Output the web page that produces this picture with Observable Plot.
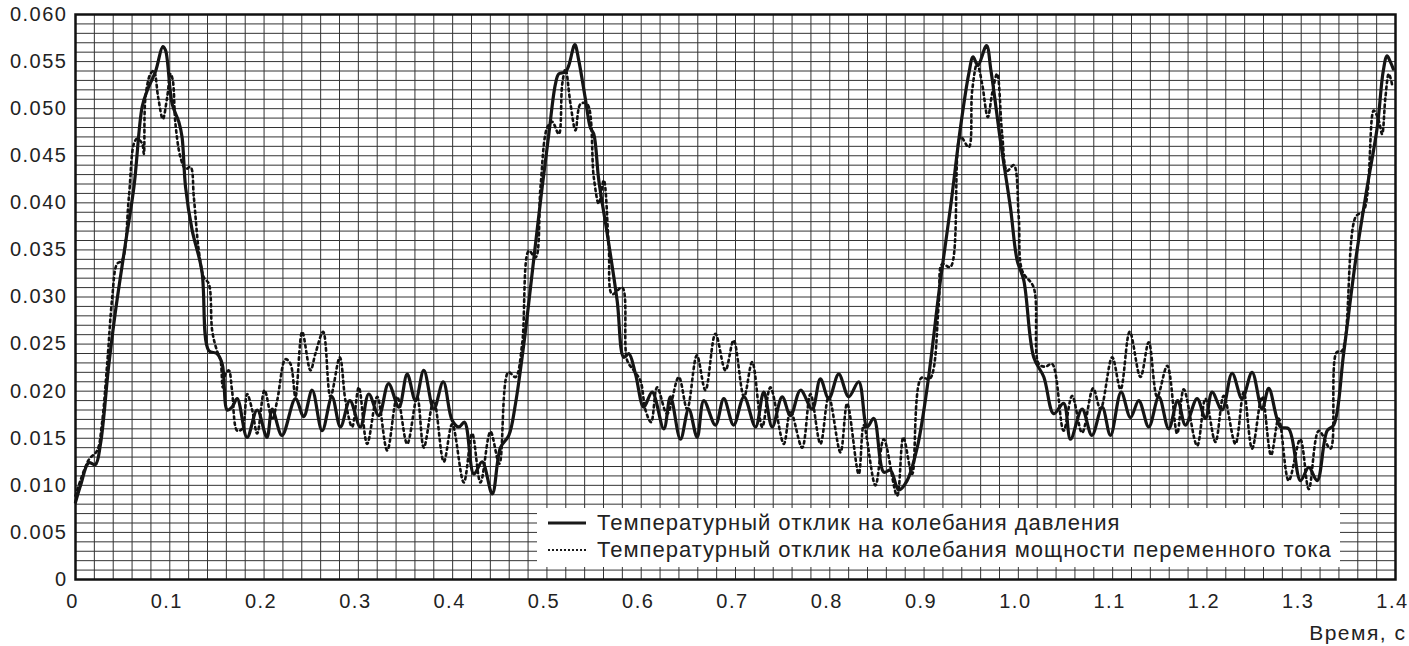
<!DOCTYPE html>
<html><head><meta charset="utf-8">
<script src="https://cdn.jsdelivr.net/npm/d3@7"></script>
<script src="https://cdn.jsdelivr.net/npm/@observablehq/plot@0.6"></script>
<style>
body{margin:0;background:#fff;font-family:"Liberation Sans",Arial,sans-serif;}
#wrap{position:relative;width:1409px;height:646px;}
#legend{position:absolute;left:537px;top:508px;width:803px;height:59px;background:#fff;}
.row{position:absolute;left:10px;height:26px;display:flex;align-items:center;font-size:22px;letter-spacing:1px;color:#222;white-space:nowrap}
.row svg{margin-right:10px}
</style></head><body><div id="wrap"></div>
<script>
// Температурный отклик на колебания давления (сплошная)
const pressureResponse = [
[0,0.0082],[0.006,0.0102],[0.014,0.0124],[0.021,0.0122],[0.0265,0.0144],[0.035,0.0225],[0.042,0.0282],[0.053,0.0357],[0.062,0.0417],[0.0707,0.0502],[0.076,0.0519],[0.085,0.054],[0.0926,0.0566],[0.0955,0.0562],[0.1025,0.0505],[0.1096,0.0486],[0.113,0.047],[0.1167,0.0417],[0.1237,0.0371],[0.134,0.0328],[0.1414,0.0243],[0.150,0.024],[0.1556,0.0229],[0.161,0.018],[0.166,0.0183],[0.1715,0.0192],[0.182,0.0151],[0.1927,0.018],[0.203,0.0151],[0.2086,0.0181],[0.219,0.0153],[0.2333,0.0192],[0.242,0.0173],[0.251,0.0201],[0.2616,0.0158],[0.272,0.0194],[0.281,0.0162],[0.291,0.019],[0.302,0.0162],[0.311,0.0197],[0.3217,0.0174],[0.332,0.0208],[0.343,0.0183],[0.3518,0.0218],[0.3606,0.019],[0.3694,0.0222],[0.380,0.0181],[0.39,0.021],[0.3995,0.0169],[0.4066,0.0162],[0.4126,0.0167],[0.4225,0.0112],[0.4313,0.0125],[0.442,0.0091],[0.4507,0.014],[0.4596,0.0153],[0.4667,0.0187],[0.4755,0.025],[0.4843,0.0325],[0.4932,0.0402],[0.502,0.0473],[0.509,0.0526],[0.5126,0.0537],[0.5197,0.0539],[0.5232,0.0546],[0.5296,0.0568],[0.5338,0.0551],[0.541,0.0509],[0.546,0.048],[0.5497,0.0473],[0.555,0.0424],[0.564,0.0367],[0.5745,0.0296],[0.5815,0.0236],[0.5868,0.024],[0.594,0.0218],[0.6027,0.0183],[0.6116,0.0199],[0.624,0.016],[0.631,0.0194],[0.6416,0.0149],[0.6504,0.0181],[0.6593,0.0151],[0.6664,0.019],[0.6787,0.0164],[0.6876,0.0192],[0.698,0.0164],[0.709,0.0194],[0.7212,0.0162],[0.73,0.0199],[0.7389,0.0162],[0.7495,0.0194],[0.7583,0.0174],[0.769,0.0201],[0.7813,0.0181],[0.79,0.0213],[0.7989,0.0192],[0.8095,0.0218],[0.8201,0.0194],[0.8307,0.021],[0.8396,0.0162],[0.8467,0.0171],[0.8572,0.0114],[0.8643,0.0116],[0.8731,0.0095],[0.882,0.0105],[0.8927,0.014],[0.9033,0.0204],[0.9174,0.0318],[0.928,0.0395],[0.9386,0.048],[0.9474,0.0537],[0.952,0.0555],[0.957,0.0546],[0.9662,0.0567],[0.971,0.054],[0.981,0.0466],[0.9916,0.0395],[0.9987,0.0339],[1.0057,0.0318],[1.0163,0.0236],[1.027,0.0215],[1.0375,0.0176],[1.048,0.0187],[1.0553,0.0149],[1.0676,0.0181],[1.078,0.0153],[1.0889,0.0183],[1.0977,0.0153],[1.109,0.0199],[1.1189,0.0172],[1.1277,0.019],[1.1383,0.0162],[1.149,0.0194],[1.1595,0.016],[1.169,0.019],[1.1772,0.0164],[1.1896,0.0192],[1.1984,0.0171],[1.2055,0.0199],[1.216,0.018],[1.2267,0.0219],[1.2373,0.0192],[1.2479,0.022],[1.2585,0.0181],[1.2656,0.0203],[1.278,0.0162],[1.2868,0.016],[1.2992,0.0105],[1.308,0.0119],[1.3169,0.0105],[1.3275,0.0158],[1.3345,0.0164],[1.345,0.024],[1.3577,0.0339],[1.37,0.0417],[1.3806,0.048],[1.387,0.054],[1.391,0.0556],[1.394,0.0551],[1.3977,0.0542]
];
// Температурный отклик на колебания мощности переменного тока (пунктир)
const powerResponse = [
[0,0.0089],[0.014,0.0127],[0.023,0.0137],[0.028,0.0165],[0.0336,0.0229],[0.039,0.030],[0.044,0.0335],[0.0495,0.0339],[0.0566,0.0406],[0.062,0.0463],[0.0654,0.0468],[0.0707,0.0463],[0.0725,0.0452],[0.0742,0.0512],[0.0795,0.0537],[0.083,0.054],[0.0877,0.0512],[0.0926,0.0489],[0.0972,0.0512],[0.1008,0.0537],[0.1032,0.053],[0.106,0.0484],[0.1114,0.0448],[0.1167,0.0436],[0.122,0.0438],[0.1255,0.0406],[0.1308,0.0349],[0.136,0.0321],[0.1414,0.0314],[0.145,0.0264],[0.150,0.0243],[0.1538,0.0233],[0.1562,0.0204],[0.159,0.0218],[0.1626,0.0222],[0.166,0.0201],[0.1715,0.0158],[0.1768,0.016],[0.182,0.0197],[0.1874,0.018],[0.1927,0.0155],[0.2005,0.0201],[0.2086,0.017],[0.2139,0.019],[0.2227,0.0234],[0.228,0.0229],[0.2333,0.0194],[0.2404,0.0263],[0.2492,0.0222],[0.2545,0.024],[0.2627,0.0263],[0.2704,0.0194],[0.2803,0.0236],[0.2863,0.019],[0.2934,0.0162],[0.3005,0.0204],[0.3093,0.0144],[0.32,0.0194],[0.3306,0.0137],[0.3412,0.0194],[0.3518,0.0144],[0.3624,0.0194],[0.3694,0.014],[0.38,0.019],[0.3906,0.0125],[0.3995,0.0165],[0.4118,0.0103],[0.4207,0.0155],[0.4295,0.0103],[0.4401,0.0157],[0.4495,0.0123],[0.459,0.022],[0.4667,0.0215],[0.4737,0.025],[0.4808,0.0349],[0.4879,0.0342],[0.4932,0.0417],[0.5003,0.048],[0.5056,0.0486],[0.5126,0.0473],[0.5162,0.0526],[0.5197,0.0542],[0.525,0.0505],[0.5303,0.0477],[0.5356,0.0505],[0.5427,0.0505],[0.5497,0.0427],[0.555,0.0399],[0.5603,0.0424],[0.5656,0.0353],[0.5692,0.0303],[0.5798,0.031],[0.585,0.0233],[0.5921,0.0222],[0.5992,0.0211],[0.6045,0.018],[0.6105,0.0167],[0.6169,0.0204],[0.6275,0.0176],[0.6398,0.0215],[0.6487,0.0181],[0.659,0.0238],[0.6681,0.0201],[0.6787,0.0261],[0.6893,0.0222],[0.698,0.0254],[0.709,0.0194],[0.7177,0.0231],[0.7283,0.0162],[0.737,0.0204],[0.7512,0.0144],[0.7583,0.0179],[0.7707,0.014],[0.7795,0.0197],[0.7901,0.0144],[0.7989,0.0194],[0.8113,0.0135],[0.8184,0.0187],[0.8307,0.0112],[0.836,0.0164],[0.8484,0.01],[0.8572,0.0149],[0.8714,0.0089],[0.878,0.0151],[0.8873,0.0112],[0.897,0.0214],[0.906,0.0213],[0.9156,0.0293],[0.9192,0.0335],[0.928,0.0332],[0.9386,0.047],[0.9474,0.0459],[0.951,0.0519],[0.9563,0.0548],[0.9616,0.0526],[0.9676,0.0491],[0.9722,0.0516],[0.9775,0.0537],[0.9828,0.0473],[0.9881,0.0434],[0.9951,0.044],[1.0004,0.0385],[1.004,0.0328],[1.0163,0.031],[1.0216,0.0229],[1.0287,0.0226],[1.0358,0.0229],[1.048,0.0158],[1.057,0.0195],[1.0676,0.0156],[1.0793,0.0203],[1.0871,0.0181],[1.0995,0.0236],[1.1084,0.0202],[1.1181,0.0263],[1.1295,0.0215],[1.1383,0.0252],[1.1472,0.0194],[1.1579,0.0227],[1.1684,0.0155],[1.1754,0.0202],[1.1896,0.0142],[1.1984,0.0192],[1.209,0.0146],[1.2178,0.0195],[1.2302,0.0144],[1.239,0.0199],[1.2479,0.0139],[1.2585,0.0194],[1.268,0.0132],[1.2761,0.0171],[1.2867,0.0105],[1.299,0.0149],[1.308,0.0096],[1.3187,0.0158],[1.331,0.0139],[1.3374,0.0241],[1.3434,0.0243],[1.3577,0.0385],[1.3665,0.0392],[1.3769,0.0498],[1.3823,0.0487],[1.3858,0.0473],[1.3893,0.0512],[1.3929,0.0537],[1.3965,0.0525]
];
const xTicks = [0,0.1,0.2,0.3,0.4,0.5,0.6,0.7,0.8,0.9,1.0,1.1,1.2,1.3,1.4];
const yTicks = [0,0.005,0.010,0.015,0.020,0.025,0.030,0.035,0.040,0.045,0.050,0.055,0.060];
const seriesNames = ["Температурный отклик на колебания давления","Температурный отклик на колебания мощности переменного тока"];
const xAxisLabel = "Время, с";

const xGrid = d3.range(71).map(i => i / 50);
const yGrid = d3.range(61).map(i => i / 1000);

const chart = Plot.plot({
  width: 1409, height: 646,
  marginLeft: 75, marginRight: 14, marginTop: 14, marginBottom: 67,
  style: {fontFamily: "'Liberation Sans', Arial, sans-serif", fontSize: "20px", letterSpacing: "1.5px", color: "#222", background: "#fff"},
  x: {domain: [0, 1.4]},
  y: {domain: [0, 0.06], ticks: yTicks, tickFormat: d => d === 0 ? "0" : d.toFixed(3), tickSize: 0, tickPadding: 8, label: null},
  marks: [
    Plot.gridX({ticks: xGrid, stroke: "#333", strokeOpacity: 1, strokeWidth: 1}),
    Plot.gridY({ticks: yGrid, stroke: "#333", strokeOpacity: 1, strokeWidth: 1}),
    Plot.axisX({ticks: xTicks, tickFormat: d => d === 0 ? "0" : d.toFixed(1), tickSize: 0, tickPadding: 14, dx: -3, label: null}),
    Plot.line(powerResponse, {x: d => d[0], y: d => d[1], curve: "catmull-rom", stroke: "#111", strokeWidth: 2.6, strokeDasharray: "2.5,3.5"}),
    Plot.line(pressureResponse, {x: d => d[0], y: d => d[1], curve: "catmull-rom", stroke: "#151515", strokeWidth: 3.2}),
    Plot.frame({stroke: "#111", strokeWidth: 2.5}),
    Plot.text([xAxisLabel], {frameAnchor: "bottom-right", textAnchor: "end", dx: 11, dy: 60, fontSize: 21, fill: "#222"})
  ]
});
const wrap = document.getElementById("wrap");
wrap.appendChild(chart);

const legend = document.createElement("div");
legend.id = "legend";
const styles = [{dash: null, w: 3}, {dash: "2,2", w: 2}];
seriesNames.forEach((name, i) => {
  const row = document.createElement("div");
  row.className = "row";
  row.style.top = (2 + i * 27) + "px";
  const s = styles[i];
  row.innerHTML = `<svg width="40" height="10"><line x1="1" x2="39" y1="5" y2="5" stroke="#1a1a1a" stroke-width="${s.w}" ${s.dash ? `stroke-dasharray="${s.dash}"` : ""}/></svg><span>${name}</span>`;
  legend.appendChild(row);
});
wrap.appendChild(legend);
</script>
</body></html>
